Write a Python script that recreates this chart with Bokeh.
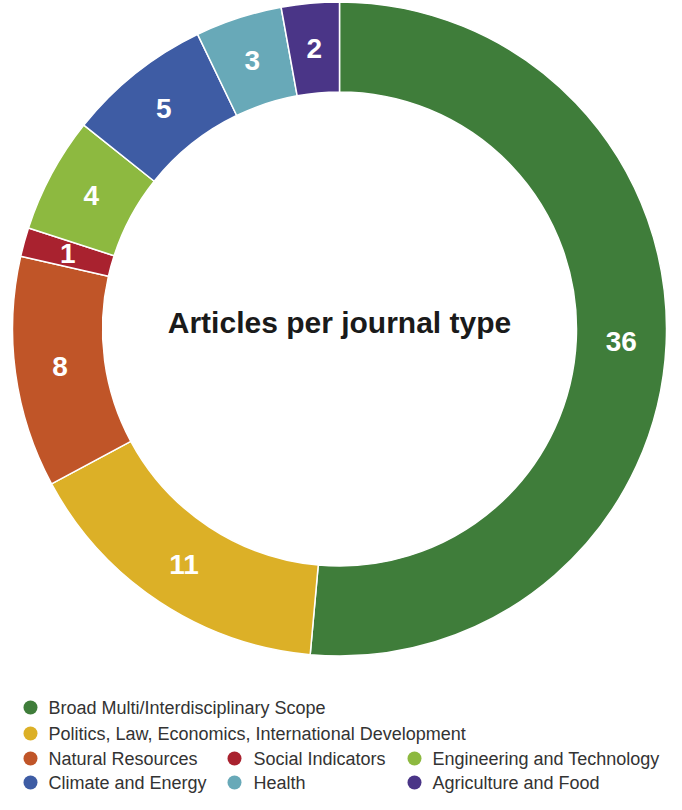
import numpy as np
from bokeh.plotting import figure
from bokeh.models import Range1d, ColumnDataSource
from bokeh.core.properties import value
from bokeh.embed import file_html
from bokeh.resources import INLINE

categories = ["Broad Multi/Interdisciplinary Scope",
              "Politics, Law, Economics, International Development",
              "Natural Resources", "Social Indicators",
              "Engineering and Technology", "Climate and Energy",
              "Health", "Agriculture and Food"]
counts = [36, 11, 8, 1, 4, 5, 3, 2]
colors = ["#3f7d3a", "#dcb027", "#c05528", "#a9222f",
          "#8db940", "#3e5ca4", "#68a9b8", "#4a3587"]
title = "Articles per journal type"

# layout (legend grid: row, column)
legend_cells = [(0, 0), (1, 0), (2, 0), (2, 1), (2, 2), (3, 0), (3, 1), (3, 2)]

W, H = 666, 794
def sy(y):  # reference screen y -> data y
    return 802 - y
def sx(x):
    return x - 8

cx, cy = sx(347), sy(336.5)
r_out, r_in = 327, 237

p = figure(width=W, height=H, output_backend="svg", toolbar_location=None,
           x_range=Range1d(0, W), y_range=Range1d(0, H), min_border=0)
p.axis.visible = False
p.grid.visible = False
p.outline_line_color = None
p.background_fill_color = "white"
p.border_fill_color = "white"

vals = np.array(counts, dtype=float)
total = vals.sum()
cum = np.concatenate([[0], np.cumsum(vals)])
start = np.pi / 2 - cum[1:] / total * 2 * np.pi
end = np.pi / 2 - cum[:-1] / total * 2 * np.pi
mid = (start + end) / 2
r_mid = (r_in + r_out) / 2

src = ColumnDataSource(dict(x=[cx] * len(counts), y=[cy] * len(counts),
                            start=start, end=end, color=colors,
                            lx=cx + r_mid * np.cos(mid), ly=cy + r_mid * np.sin(mid),
                            lab=[str(c) for c in counts]))
p.annular_wedge(x="x", y="y", inner_radius=r_in, outer_radius=r_out,
                start_angle="start", end_angle="end", fill_color="color",
                line_color="white", line_width=1.5, source=src)
p.text(x="lx", y="ly", text="lab", text_color="white", text_font=value("Liberation Sans"),
       text_font_style="bold", text_font_size="28px", text_align="center",
       text_baseline="middle", source=src)

p.text(x=[cx], y=[sy(330)], text=[title], text_color="#1a1a1a",
       text_font=value("Liberation Sans"), text_font_style="bold",
       text_font_size="30px", text_align="center", text_baseline="middle")

col_circle = [38, 242, 422]
col_text = [56, 261, 440]
row_y = [715, 741, 766, 790]
lx = [sx(col_circle[c]) for r, c in legend_cells]
ly = [sy(row_y[r]) for r, c in legend_cells]
tx = [sx(col_text[c]) for r, c in legend_cells]
p.scatter(x=lx, y=ly, size=14, marker="circle", fill_color=colors, line_color=None)
p.text(x=tx, y=ly, text=categories, text_color="#333333",
       text_font=value("Liberation Sans"), text_font_size="18px",
       text_align="left", text_baseline="middle")

open("out.html", "w").write(file_html(p, INLINE))
